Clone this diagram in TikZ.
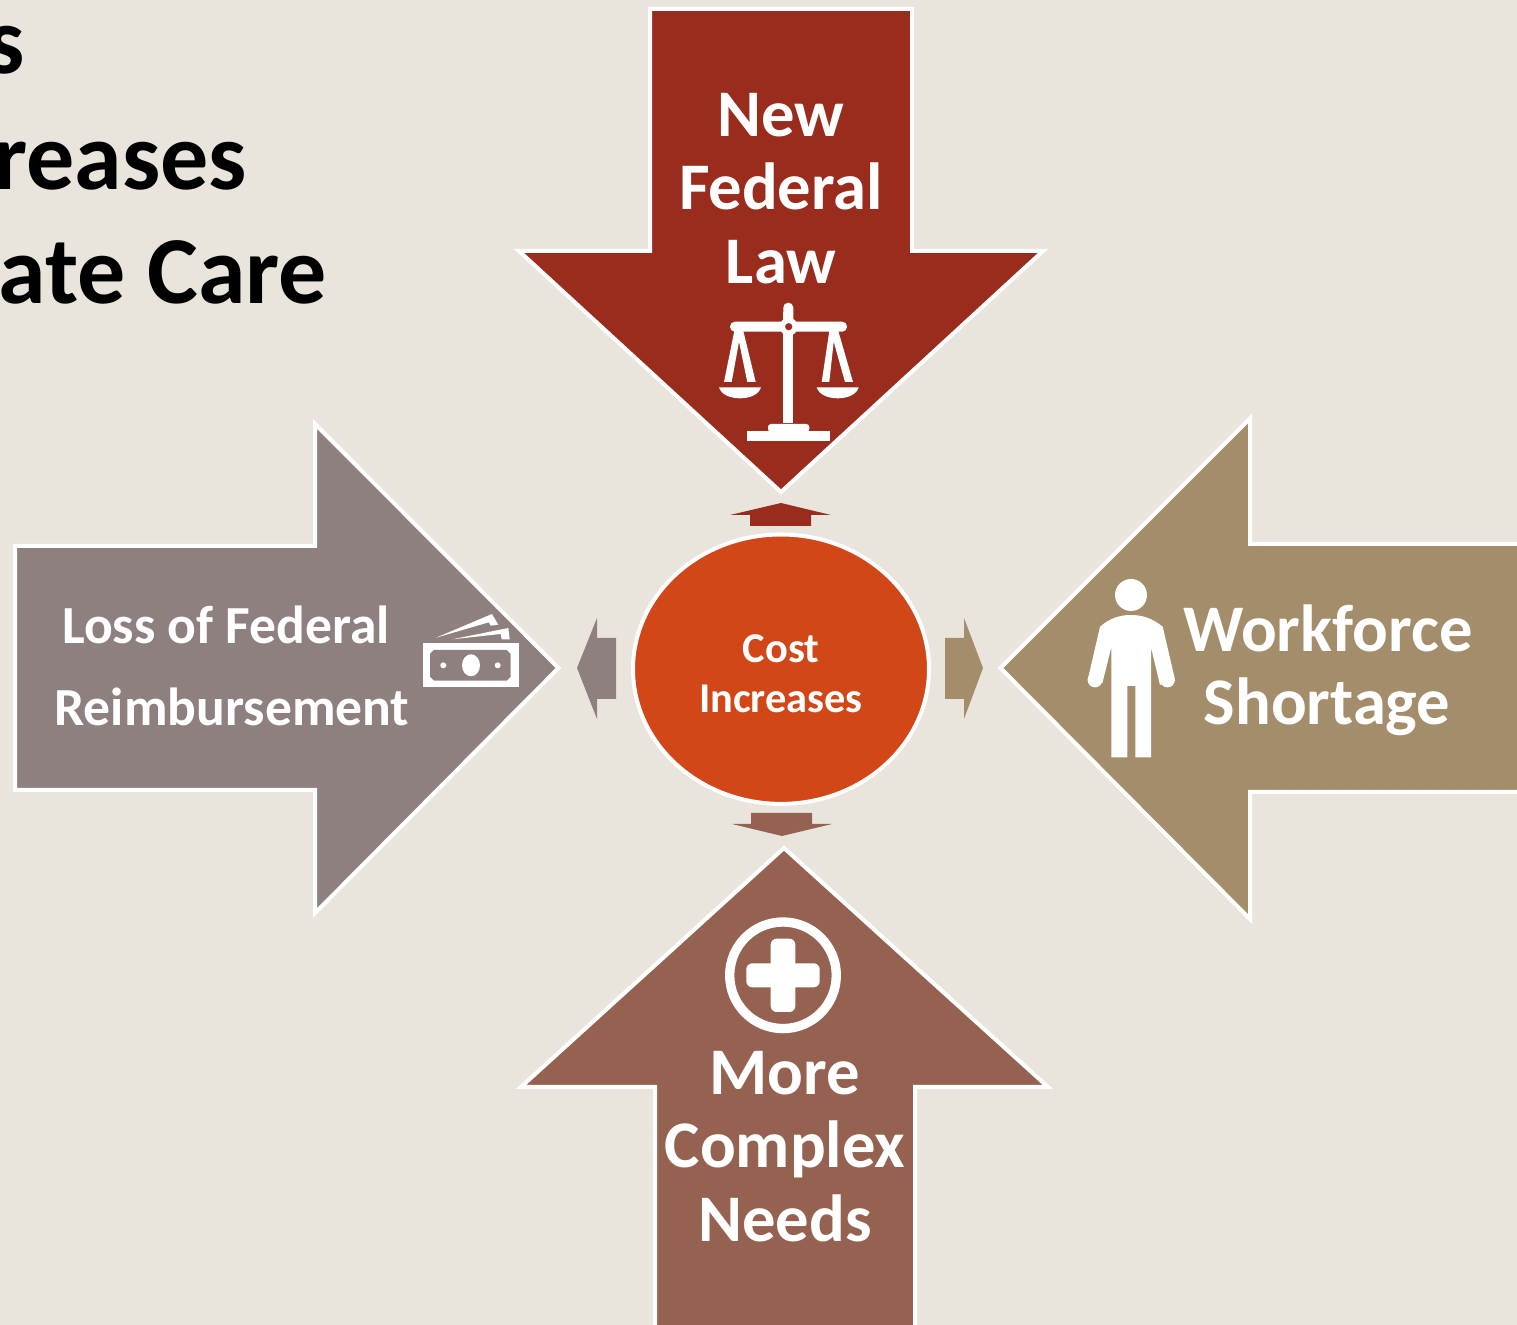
\documentclass[tikz,border=0pt]{standalone}
\usetikzlibrary{shapes.geometric}
\usepackage{fontspec}
\setmainfont{Carlito}
\definecolor{bgc}{HTML}{E9E5DD}
\definecolor{redc}{HTML}{9A2C1E}
\definecolor{grayc}{HTML}{8F8080}
\definecolor{tanc}{HTML}{A48D6A}
\definecolor{brownc}{HTML}{956251}
\definecolor{orangec}{HTML}{D24717}
\tikzset{
  blockarrow/.style={draw=white,line width=2pt,line join=miter,miter limit=10},
  icon/.style={fill=white,draw=none},
  lbl/.style={text=white,anchor=base,inner sep=0pt,outer sep=0pt,font=\fontsize{33.3}{33.3}\selectfont\bfseries},
  lblmid/.style={text=white,anchor=base,inner sep=0pt,outer sep=0pt,font=\fontsize{26.8}{26.8}\selectfont\bfseries},
  lblsmall/.style={text=white,anchor=base,inner sep=0pt,outer sep=0pt,font=\fontsize{21.2}{21.2}\selectfont\bfseries},
  headline/.style={text=black,anchor=base east,inner sep=0pt,outer sep=0pt,font=\fontsize{48}{48}\selectfont\bfseries}
}
\begin{document}
\begin{tikzpicture}[x=0.5pt,y=-0.5pt]
\useasboundingbox (0,0) rectangle (1517,1325);
\clip (0,0) rectangle (1517,1325);
\fill[bgc] (0,0) rectangle (1517,1325);
% heading (cropped)
\node[headline] (h1) at (25,74) {s};
\node[headline] (h2) at (247,190) {reases};
\node[headline] (h3) at (327,304) {ate Care};
% block arrows
\draw[blockarrow,fill=redc] (650,9) -- (912,9) -- (912,251) -- (1043,251) -- (781,492) -- (519,251) -- (650,251) -- cycle;
\draw[blockarrow,fill=grayc] (15,546) -- (315,546) -- (315,424) -- (558.5,668) -- (315,913) -- (315,790) -- (15,790) -- cycle;
\draw[blockarrow,fill=tanc] (1530,544) -- (1250,544) -- (1250,418.5) -- (1000.5,668) -- (1250,919) -- (1250,792) -- (1530,792) -- cycle;
\draw[blockarrow,fill=brownc] (655,1340) -- (655,1087) -- (521,1087) -- (784,848) -- (1048,1087) -- (915,1087) -- (915,1340) -- cycle;
% small arrows
\fill[redc] (781,503) -- (831,515) -- (811,515) -- (811,526) -- (750,526) -- (750,515) -- (730,515) -- cycle;
\fill[brownc] (782,836) -- (832,824) -- (812,824) -- (812,813) -- (751,813) -- (751,824) -- (732,824) -- cycle;
\fill[grayc] (577,668) -- (597,618) -- (597,638) -- (616,638) -- (616,699) -- (597,699) -- (597,719) -- cycle;
\fill[tanc] (983,668) -- (964,618) -- (964,638) -- (945,638) -- (945,699) -- (964,699) -- (964,719) -- cycle;
% centre
\node[draw=white,line width=2pt,fill=orangec,ellipse,inner sep=0pt,minimum width=148pt,minimum height=134.7pt] (centre) at (781,669.2) {};
% texts
\node[lbl] (t1) at (781,137) {New};
\node[lbl] (t2) at (781,210) {Federal};
\node[lbl] (t3) at (781,284) {Law};
\node[lblmid] (l1) at (226,644) {Loss of Federal};
\node[lblmid] (l2) at (232,726) {Reimbursement};
\node[lbl] (r1) at (1328,652) {Workforce};
\node[lbl] (r2) at (1327,725) {Shortage};
\node[lblsmall] (c1) at (781,663) {Cost};
\node[lblsmall] (c2) at (781,713) {Increases};
\node[lbl] (b1) at (785,1095) {More};
\node[lbl] (b2) at (785,1168) {Complex};
\node[lbl] (b3) at (785,1241) {Needs};
% scales icon
\fill[icon,rounded corners=2.4pt] (783.3,331) -- (783.3,302.7) -- (793.3,302.7) -- (793.3,331) -- cycle;
\fill[icon] (783.3,312) rectangle (793.3,423);
\fill[icon,rounded corners=2.4pt] (730,321.7) rectangle (847,331.7);
\fill[icon] (788.7,326.7) circle [radius=9];
\fill[redc] (788.7,326.7) circle [radius=3.6];
\fill[icon] (747.3,431) rectangle (830.3,441.3);
\fill[icon,rounded corners=1.5pt] (768,432) -- (768,424) -- (809.3,424) -- (809.3,432) -- cycle;
\fill[icon] (734.3,331) -- (743.3,331) -- (755.7,382) -- (747.3,382) -- (739,341.7) -- (731.7,382) -- (724,382) -- cycle;
\fill[icon] (829.3,331) -- (838.3,331) -- (853,382) -- (845,382) -- (833.7,341.7) -- (829.3,382) -- (821.7,382) -- cycle;
\fill[icon] (719,387.3) -- (761,387.3) .. controls (757,402) and (723,402) .. (719,387.3) -- cycle;
\fill[icon] (816.7,387.3) -- (858.7,387.3) .. controls (854.7,402) and (820.7,402) .. (816.7,387.3) -- cycle;
% money icon
\fill[icon] (423.3,643.3) rectangle (519,687.3);
\fill[grayc] (434,650) -- (506.7,650) -- (510.7,654) -- (510.7,676.7) -- (506.7,680.7) -- (434,680.7) -- (430,676.7) -- (430,654) -- cycle;
\fill[icon] (471,665.3) ellipse [x radius=9,y radius=11];
\fill[icon] (443.3,665.3) circle [radius=3];
\fill[icon] (497.7,665.3) circle [radius=3];
\fill[icon] (436,637.7) -- (492,614) -- (498.3,624.7) -- (490.7,625.7) -- (489,622.3) -- cycle;
\fill[icon] (452.3,639.3) -- (508.3,628) -- (509.7,639.3) -- (501.7,639.3) -- (500.7,634) -- cycle;
% person icon
\fill[icon] (1131,595) circle [radius=16];
\fill[icon] (1100,626.7) .. controls (1110,618) and (1120,615) .. (1131,615) .. controls (1142,615) and (1152,618) .. (1162.7,626.7)
  -- (1174.7,678.3) -- (1160,685) -- (1151,647.3) -- (1151,757.3) -- (1135.3,757.3) -- (1135.3,686) -- (1127.3,686) -- (1127.3,757.3) -- (1111.3,757.3) -- (1111.3,647.3) -- (1102.3,683.3) -- (1087.7,680) -- cycle;
\fill[icon] (1095,680) circle [radius=7.4];
\fill[icon] (1167.5,680) circle [radius=7.4];
% plus icon
\draw[white,line width=4.67pt] (783,975.3) circle [radius=53.3];
\fill[icon,rounded corners=3pt] (746.3,963.3) rectangle (819.7,987.3);
\fill[icon,rounded corners=3pt] (770.7,938.7) rectangle (795.3,1012);
\end{tikzpicture}
\end{document}
